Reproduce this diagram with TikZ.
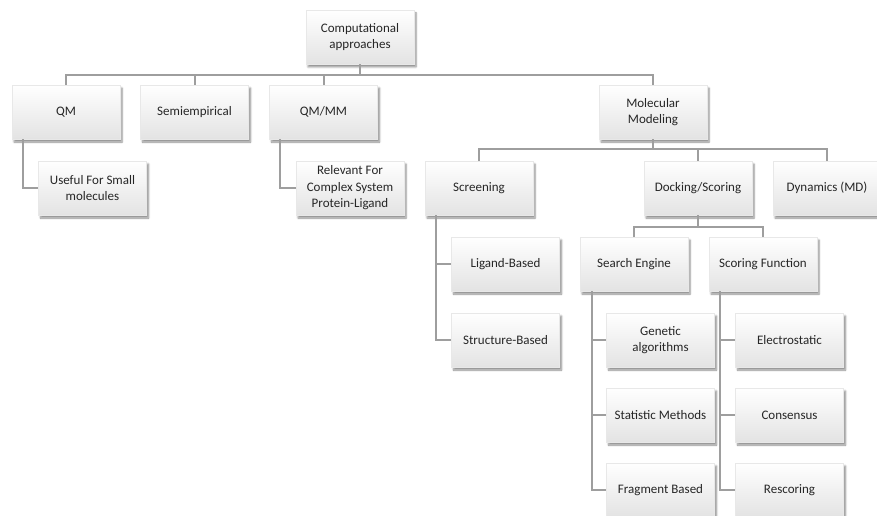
\documentclass[tikz,border=0pt]{standalone}
\usepackage{fontspec}
\setmainfont{Carlito}
\usetikzlibrary{shadows.blur}

\begin{document}
\begin{tikzpicture}[x=1pt,y=-1pt,
  box/.style={draw=black!9,top color=white,bottom color=black!11,
    minimum width=108pt,minimum height=54pt,inner sep=2pt,align=center,
    text=black!85,font=\fontsize{13}{16.5}\selectfont,
    blur shadow={shadow xshift=2pt,shadow yshift=-3pt,shadow blur steps=6,shadow opacity=45}},
  link/.style={draw=black!38,line width=2pt}]
  \useasboundingbox (0,0) rectangle (877,516);

  \node[box] (comp) at (360,37) {Computational\\approaches};

  \node[box] (qm)   at (66,112)    {QM};
  \node[box] (semi) at (194.5,112) {Semiempirical};
  \node[box] (qmmm) at (323.5,112) {QM/MM};
  \node[box] (mm)   at (653,112)   {Molecular\\Modeling};

  \node[box] (small) at (92.5,188) {Useful For Small\\molecules};
  \node[box] (rel)   at (350,188)  {Relevant For\\Complex System\\Protein-Ligand};
  \node[box] (scr)   at (479,188)  {Screening};
  \node[box] (dock)  at (698,188)  {Docking/Scoring};
  \node[box] (dyn)   at (827,188)  {Dynamics (MD)};

  \node[box] (lig) at (505.5,264) {Ligand-Based};
  \node[box] (str) at (505.5,340) {Structure-Based};
  \node[box] (se)  at (634,264)   {Search Engine};
  \node[box] (sf)  at (763,264)   {Scoring Function};

  \node[box] (gen) at (660.5,340) {Genetic\\algorithms};
  \node[box] (sta) at (660.5,415) {Statistic Methods};
  \node[box] (fra) at (660.5,490) {Fragment Based};
  \node[box] (ele) at (789.5,340) {Electrostatic};
  \node[box] (con) at (789.5,415) {Consensus};
  \node[box] (res) at (789.5,490) {Rescoring};

  \foreach \c in {qm,semi,qmmm,mm} \draw[link] (comp.south) -- ++(0,11) -| (\c.north);
  \foreach \c in {scr,dock,dyn} \draw[link] (mm.south) -- ++(0,10) -| (\c.north);
  \foreach \c in {se,sf} \draw[link] (dock.south) -- ++(0,12) -| (\c.north);

  \draw[link] ([xshift=11pt]qm.south west) |- (small.west);
  \draw[link] ([xshift=11pt]qmmm.south west) |- (rel.west);
  \foreach \c in {lig,str} \draw[link] ([xshift=11pt]scr.south west) |- (\c.west);
  \foreach \c in {gen,sta,fra} \draw[link] ([xshift=12pt]se.south west) |- (\c.west);
  \foreach \c in {ele,con,res} \draw[link] ([xshift=11pt]sf.south west) |- (\c.west);
\end{tikzpicture}
\end{document}
